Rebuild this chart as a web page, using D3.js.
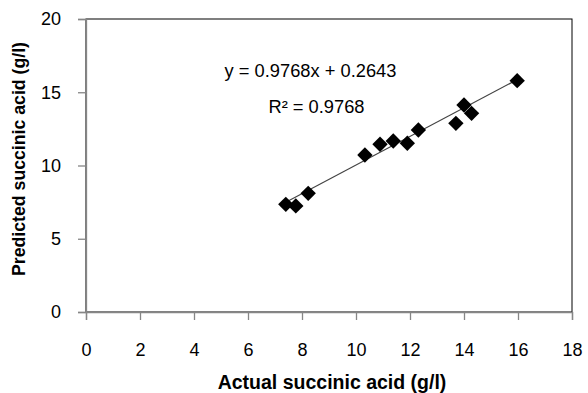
<!DOCTYPE html>
<html>
<head>
<meta charset="utf-8">
<script src="https://cdn.jsdelivr.net/npm/d3@7"></script>
<style>
  body { margin: 0; background: #fff; }
  svg text { font-family: "Liberation Sans", Arial, sans-serif; }
</style>
</head>
<body>
<div id="chart"></div>
<script>
// data
const actual    = [7.40, 7.77, 8.23, 10.33, 10.89, 11.38, 11.90, 12.31, 13.70, 14.00, 14.28, 15.97]
const predicted = [7.35, 7.24, 8.10, 10.72, 11.45, 11.67, 11.52, 12.42, 12.88, 14.13, 13.56, 15.79]
const xTicks = [0, 2, 4, 6, 8, 10, 12, 14, 16, 18]
const yTicks = [0, 5, 10, 15, 20]
const slope = 0.9768, intercept = 0.2643
const eqLabel = "y = 0.9768x + 0.2643"
const r2Label = "R² = 0.9768"

const W = 588, H = 393
const margin = { top: 19, right: 16, bottom: 81, left: 86 },
    width = W - margin.left - margin.right,
    height = H - margin.top - margin.bottom;

const svg = d3.select("#chart")
    .append("svg")
    .attr("width", W)
    .attr("height", H)

const g = svg.append("g")
    .attr("transform", `translate(${margin.left},${margin.top})`)

const x = d3.scaleLinear().domain([0, 18]).range([0, width])
const y = d3.scaleLinear().domain([0, 20]).range([height, 0])

// plot area border
g.append("rect")
    .attr("width", width)
    .attr("height", height)
    .attr("fill", "none")
    .attr("stroke", "#000")
    .attr("stroke-width", 1)

// axes
const xAxis = g.append("g")
    .attr("transform", `translate(0,${height})`)
    .call(d3.axisBottom(x).tickValues(xTicks).tickSize(8).tickPadding(23).tickFormat(d3.format("d")))
const yAxis = g.append("g")
    .call(d3.axisLeft(y).tickValues(yTicks).tickSize(8).tickPadding(17).tickFormat(d3.format("d")))

for (const ax of [xAxis, yAxis]) {
    ax.select(".domain").attr("stroke", "#868686").attr("stroke-width", 1.3)
    ax.selectAll(".tick line").attr("stroke", "#868686").attr("stroke-width", 1.3)
    ax.selectAll("text").attr("font-size", 18).attr("fill", "#000")
        .attr("font-family", "Liberation Sans, Arial, sans-serif")
}

// trend line over data range
const x0 = d3.min(actual), x1 = d3.max(actual)
g.append("line")
    .attr("x1", x(x0)).attr("y1", y(slope * x0 + intercept))
    .attr("x2", x(x1)).attr("y2", y(slope * x1 + intercept))
    .attr("stroke", "#444")
    .attr("stroke-width", 1.2)

// diamond markers
const diamond = d3.symbol().type(d3.symbolSquare).size(118)
g.selectAll("path.pt")
    .data(actual.map((a, i) => [a, predicted[i]]))
    .join("path")
    .attr("class", "pt")
    .attr("d", diamond)
    .attr("transform", d => `translate(${x(d[0])},${y(d[1])}) rotate(45)`)
    .attr("fill", "#000")

// equation labels
svg.append("text")
    .attr("x", 310.5).attr("y", 77)
    .attr("text-anchor", "middle")
    .attr("font-size", 18.3)
    .text(eqLabel)
svg.append("text")
    .attr("x", 316.5).attr("y", 113)
    .attr("text-anchor", "middle")
    .attr("font-size", 18.3)
    .text(r2Label)

// axis titles
svg.append("text")
    .attr("x", 332).attr("y", 389)
    .attr("text-anchor", "middle")
    .attr("font-size", 19.5)
    .attr("font-weight", "bold")
    .text("Actual succinic acid (g/l)")
svg.append("text")
    .attr("transform", "translate(25,159) rotate(-90)")
    .attr("text-anchor", "middle")
    .attr("font-size", 17.7)
    .attr("font-weight", "bold")
    .text("Predicted succinic acid (g/l)")
</script>
</body>
</html>
